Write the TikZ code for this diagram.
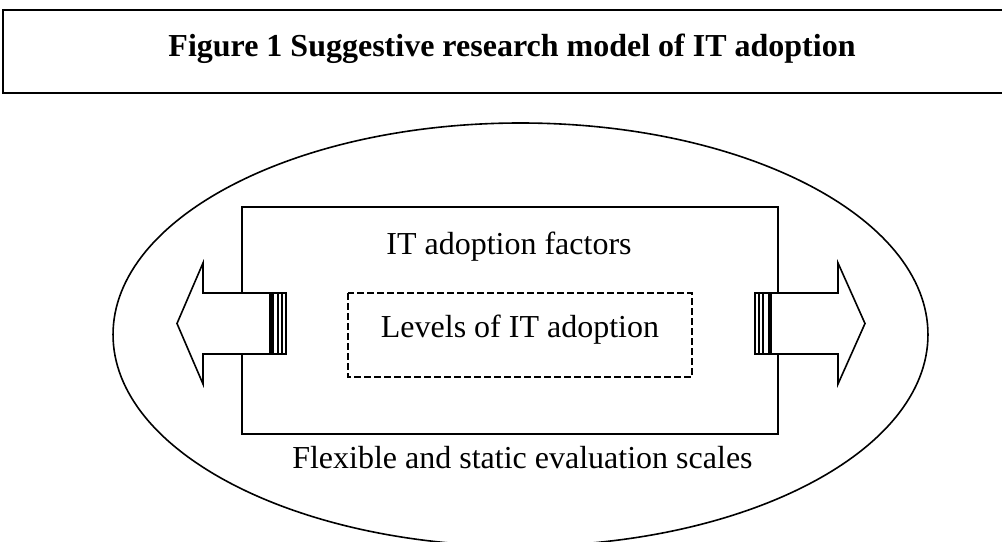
\documentclass[tikz,border=0pt]{standalone}
\usepackage{fontspec}
\setmainfont{Liberation Serif}
\usepackage{tikz}
\usetikzlibrary{positioning}

\begin{document}
\begin{tikzpicture}[x=0.75pt,y=-0.75pt,
    every node/.style={font=\fontsize{24}{28}\selectfont,inner sep=0pt},
    frame/.style={line width=1.2pt},
    dashedbox/.style={line width=1pt,dash pattern=on 5pt off 2.5pt},
    fatarrow/.style={line width=1.2pt,fill=white,line join=miter}]
    \useasboundingbox (0,0) rectangle (1002,542);
    \clip (0,0) rectangle (1002,542);
    % title
    \draw[line width=1.8pt] (1010,10) -- (3,10) -- (3,93) -- (1010,93);
    \node[anchor=base,font=\fontsize{24}{28}\selectfont\bfseries] (title) at (512,57)
        {Figure 1 Suggestive research model of IT adoption};
    % scales
    \draw[frame] (520.5,334.6) ellipse [x radius=305.6pt,y radius=158.7pt];
    \draw[frame] (242,207) rectangle (778,434);
    \draw[dashedbox] (348,293) rectangle (692,377);
    \node[anchor=base] (factors) at (509,254) {IT adoption factors};
    \node[anchor=base] (levels) at (520,337) {Levels of IT adoption};
    \node[anchor=base west] (scales) at (292,468) {Flexible and static evaluation scales};
    % left arrow
    \draw[fatarrow] (177,323.5) -- (203,263) -- (203,293) -- (286,293)
        -- (286,354) -- (203,354) -- (203,384) -- cycle;
    \fill (269,293) rectangle (273.5,354);
    \draw[line width=1pt] (278,293) -- (278,354);
    \draw[line width=1pt] (282,293) -- (282,354);
    % right arrow
    \draw[fatarrow] (865,323.5) -- (838,263) -- (838,293) -- (755,293)
        -- (755,354) -- (838,354) -- (838,384) -- cycle;
    \fill (767.5,293) rectangle (772,354);
    \draw[line width=1pt] (759,293) -- (759,354);
    \draw[line width=1pt] (763,293) -- (763,354);
\end{tikzpicture}
\end{document}
